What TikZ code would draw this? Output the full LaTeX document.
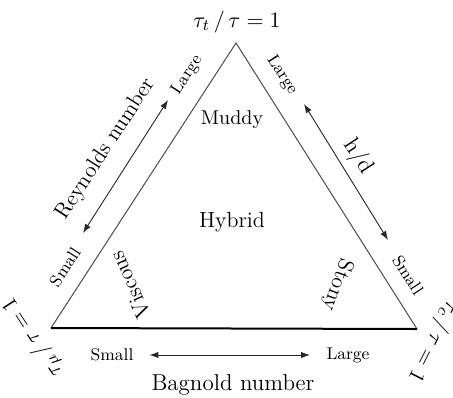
\documentclass[tikz,border=0pt]{standalone}
\usepackage{mathtools}
\usepackage{tikz}
\usepackage{xcolor}
\usetikzlibrary{arrows.meta}

\begin{document}
\begin{tikzpicture}[x=0.5pt, y=0.5pt,
        >={Latex[length=4.5pt, width=3.2pt]},
        edge/.style={line width=0.5pt, black!70},
        base/.style={line width=1pt, black},
        axisarrow/.style={<->, line width=0.45pt, black!85},
        tick/.style={font=\fontsize{8.5}{10}\selectfont},
        axisname/.style={font=\fontsize{11.5}{13}\selectfont},
        region/.style={font=\fontsize{11}{13}\selectfont},
        corner/.style={font=\fontsize{10.8}{13}\selectfont, inner sep=1pt}]
        \useasboundingbox (0, 0) rectangle (453, 397);

        \coordinate (top)   at (236, 354);
        \coordinate (left)  at ( 51,  69);
        \coordinate (right) at (417,  68);

        \draw[edge] (left) -- (top) -- (right);
        \draw[base] (left) -- (right);

        \node (ttop)   at (237, 375) [corner] {$\tau_t\,/\,\tau=1$};
        \node (tleft)  at ( 33,  60) [corner, rotate=123] {$\tau_\mu\,/\,\tau=1$};
        \node (tright) at (433,  56) [corner, rotate=-117] {$\tau_c\,/\,\tau=1$};

        \node (muddy)   at (232, 277) [region, font=\normalsize] {Muddy};
        \node (hybrid)  at (232, 175) [region] {Hybrid};
        \node (viscous) at (130, 112) [region, rotate=114] {Viscous};
        \node (stony)   at (337, 112) [region, rotate=-110] {Stony};

        % Reynolds number
        \coordinate (res) at ( 83, 164);
        \coordinate (rel) at (168, 297);
        \draw[axisarrow] (res) -- (rel);
        \node (reynolds) at (106, 248) [axisname, font=\fontsize{11}{13}\selectfont, rotate=57] {Reynolds number};
        \node (resmall)  at ( 65, 130) [tick, rotate=57] {Small};
        \node (relarge)  at (187, 322) [tick, rotate=57] {Large};

        % h/d
        \coordinate (hdl) at (304, 293);
        \coordinate (hds) at (388, 157);
        \draw[axisarrow] (hdl) -- (hds);
        \node (hd)      at (358, 240) [axisname, rotate=-57] {h/d};
        \node (hdlarge) at (282, 322) [tick, rotate=-57] {Large};
        \node (hdsmall) at (408, 122) [tick, rotate=-57] {Small};

        % Bagnold number
        \node (basmall) at (112,  42) [tick] {Small};
        \node (balarge) at (348,  42) [tick] {Large};
        \draw[axisarrow] (basmall.east) ++(9, 0) coordinate (bas) -- (bas -| 310, 0) coordinate (bal);
        \node (bagnold) at (233,  12) [axisname] {Bagnold number};
    \end{tikzpicture}
\end{document}
